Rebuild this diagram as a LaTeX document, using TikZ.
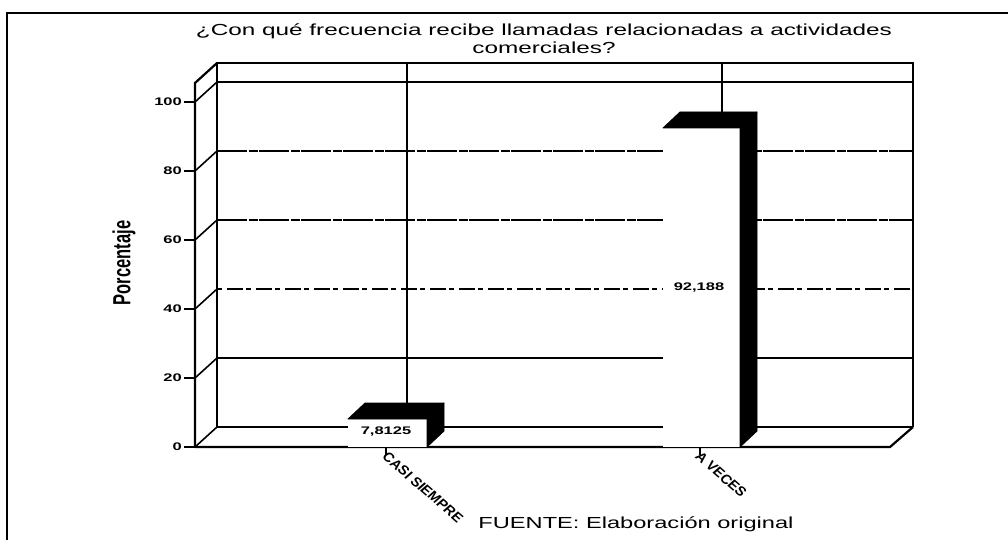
\documentclass[tikz,border=0pt]{standalone}
\usepackage{fontspec}
\setmainfont{Liberation Sans}
\newcommand{\hstretch}[1]{\scalebox{1.5}[1]{#1}}
\newcommand{\cstretch}[1]{\scalebox{1.15}[1]{#1}}
\tikzset{
  outerline/.style={line width=2.4pt},
  wall/.style={line width=2.2pt, line join=miter},
  gridsolid/.style={line width=1.6pt},
  griddash/.style={line width=1.3pt, dash pattern=on 30pt off 1.5pt on 9pt off 1.5pt},
  gridsparse/.style={line width=1.3pt, dash pattern=on 5pt off 5pt on 16pt off 3pt},
  catline/.style={line width=1.2pt},
  slant/.style={line width=1.6pt},
  darkface/.style={fill=black, draw=black, line width=0.8pt, line join=round},
  frontface/.style={fill=white, draw=none},
  ticktext/.style={font=\bfseries\fontsize{11}{11}\selectfont, inner sep=0pt, anchor=east},
  valtext/.style={font=\bfseries\fontsize{11}{11}\selectfont, inner sep=0pt},
  cattext/.style={font=\bfseries\fontsize{13}{13}\selectfont, inner sep=0pt, anchor=north west},
}
\begin{document}
\begin{tikzpicture}[x=1pt,y=-1pt]
\useasboundingbox (0,0) rectangle (1008,540);
% outer frame
\coordinate (FTL) at (7,13);
\coordinate (FTR) at (1008,13);
\coordinate (FBL) at (7,540);
\draw[outerline] (FTR) -- (FTL) -- (FBL);

% title
\node[inner sep=0pt, anchor=north] (title) at (544,23)
  {\resizebox{696pt}{\height}{\fontsize{16}{18}\selectfont
   \begin{tabular}{@{}c@{}}¿Con qué frecuencia recibe llamadas relacionadas a actividades\\comerciales?\end{tabular}}};

% back wall gridlines
\draw[gridsolid]  (217,82)  -- (913,82);
\draw[griddash]   (217,151) -- (913,151);
\draw[griddash]   (217,220) -- (913,220);
\draw[gridsparse] (217,289) -- (913,289);
\draw[gridsolid]  (217,358) -- (913,358);
\draw[gridsolid]  (217,427) -- (913,427);
% category gridlines on back wall
\draw[catline] (407,63) -- (407,427);
\draw[catline] (722,63) -- (722,427);

% back wall frame
\coordinate (BBL) at (217,427);
\coordinate (BTL) at (217,63);
\coordinate (BTR) at (913,63);
\coordinate (BBR) at (913,427);
\draw[wall] (BBL) -- (BTL) -- (BTR) -- (BBR);

% left wall
\coordinate (LFB) at (195,447);
\coordinate (LFT) at (195,83);
\draw[wall] (LFB) -- (LFT) -- (BTL);
\foreach \v in {0,20,40,60,80,100} {
  \pgfmathsetmacro\yf{447-3.45*\v}
  \pgfmathsetmacro\yb{427-3.45*\v}
  \draw[slant] (195,\yf) -- (217,\yb);
  \draw[slant] (184,\yf) -- (195,\yf);
  \node[ticktext] (t\v) at (182,\yf) {\hstretch{\v}};
}

% floor
\coordinate (FLR) at (890,447);
\draw[wall] (LFB) -- (FLR) -- (BBR);

% bar 1 : CASI SIEMPRE (7,8125)
\fill[frontface] (348,447) rectangle (427,419);
\draw[darkface] (348,419) -- (427,419) -- (444,403) -- (365,403) -- cycle;
\draw[darkface] (427,419) -- (444,403) -- (444,431) -- (427,447) -- cycle;
\node[valtext] (v1) at (386,432) {\hstretch{7,8125}};

% bar 2 : A VECES (92,188)
\fill[frontface] (663,447) rectangle (740,128);
\draw[darkface] (663,128) -- (740,128) -- (757,112) -- (680,112) -- cycle;
\draw[darkface] (740,128) -- (757,112) -- (757,431) -- (740,447) -- cycle;
\node[valtext] (v2) at (699,288) {\hstretch{92,188}};

% category ticks and labels
\coordinate (k1) at (386,447);
\coordinate (k1e) at (386,455);
\coordinate (k2) at (700,447);
\coordinate (k2e) at (700,455);
\draw[catline] (k1) -- (k1e);
\draw[catline] (k2) -- (k2e);
\node[cattext] (c1) at (381,451) {\cstretch{\rotatebox{-45}{CASI SIEMPRE}}};
\node[cattext] (c2) at (694,451) {\cstretch{\rotatebox{-45}{A VECES}}};

% axis title
\node[inner sep=0pt] (ytitle) at (124,263)
  {\hstretch{\rotatebox{90}{\bfseries\fontsize{16.5}{16.5}\selectfont Porcentaje}}};

% source
\node[inner sep=0pt, anchor=base] (src) at (636,528)
  {\resizebox{315pt}{\height}{\fontsize{16}{16}\selectfont FUENTE: Elaboración original}};
\end{tikzpicture}
\end{document}
